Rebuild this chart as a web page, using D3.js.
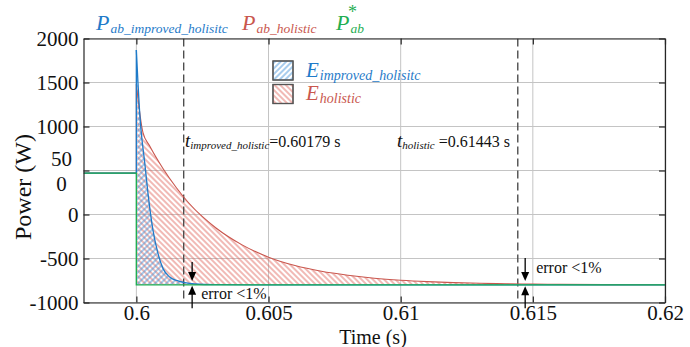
<!DOCTYPE html>
<html><head><meta charset="utf-8">
<script src="https://cdn.jsdelivr.net/npm/d3@7"></script>
<style>
html,body{margin:0;padding:0;background:#fff;}
svg{display:block;}
svg text{font-family:"Liberation Serif","Times New Roman",serif !important;}
</style></head>
<body><svg id="c" width="690" height="347"></svg>
<script>
// ---------- data ----------
const xDomain = [0.598, 0.62];
const yDomain = [-1000, 2000];
const xTicks = [0.6, 0.605, 0.61, 0.615, 0.62];
const xTickLabels = ["0.6", "0.605", "0.61", "0.615", "0.62"];
const yTicks = [-1000, -500, 0, 500, 1000, 1500, 2000];
const yTickLabels = ["-1000", "-500", "0", "50\n0", "1000", "1500", "2000"];

const tImproved = [0.598, 0.6, 0.6, 0.60006, 0.60012, 0.60019, 0.60032, 0.60044, 0.60063, 0.60082, 0.60101, 0.60126, 0.60158, 0.60183, 0.6022, 0.603, 0.605, 0.62];
const pImproved = [470, 470, 1870, 1500, 1180, 920, 580, 240, -180, -445, -615, -710, -755, -775, -790, -797, -800, -800];

const tHolistic = [0.598, 0.6, 0.6, 0.60025, 0.6005, 0.601, 0.6015, 0.602, 0.6025, 0.603, 0.604, 0.605, 0.606, 0.607, 0.608, 0.609, 0.61, 0.611, 0.612, 0.613, 0.614, 0.615, 0.616, 0.618, 0.62];
const pHolistic = [470, 470, 1480, 930, 780, 525, 310, 125, -25, -150, -345, -485, -580, -645, -690, -724, -747, -763, -774, -782, -787, -791, -794, -797, -799];

const tRef = [0.598, 0.6, 0.6, 0.62];
const pRef = [470, 470, -800, -800];

const settleTimes = [0.60179, 0.61443];
const settleLabelSubs = ["improved_holistic", "holistic"];
const settleLabelVals = ["=0.60179 s", " =0.61443 s"];
const errorArrowT = [0.60211, 0.61471];

// ---------- layout ----------
const svg = d3.select("#c");
const L = 83.5, R = 665, T = 38.5, B = 302.5;
const x = d3.scaleLinear().domain(xDomain).range([L, R]);
const y = d3.scaleLinear().domain(yDomain).range([B, T]);
const cBlue = "#1f7bc9", cRed = "#c9574e", cGreen = "#1fae52";
const axisCol = "#262626";

const defs = svg.append("defs");
function hatch(id, color, angle) {
  const p = defs.append("pattern").attr("id", id).attr("patternUnits", "userSpaceOnUse")
    .attr("width", 4).attr("height", 8).attr("patternTransform", `rotate(${angle})`);
  p.append("line").attr("x1", 2).attr("y1", 0).attr("x2", 2).attr("y2", 8)
    .attr("stroke", color).attr("stroke-width", 0.9);
}
hatch("hBlue", "#3b8ed8", 45);
hatch("hRed", "#e0645a", -45);
defs.append("clipPath").attr("id", "plotClip").append("rect")
  .attr("x", L).attr("y", T).attr("width", R - L).attr("height", B - T);

// grid
const g = svg.append("g");
g.selectAll(".gx").data(xTicks).join("line")
  .attr("x1", d => x(d)).attr("x2", d => x(d)).attr("y1", T).attr("y2", B)
  .attr("stroke", "#c4c4c4").attr("stroke-width", 1);
g.selectAll(".gy").data(yTicks).join("line")
  .attr("x1", L).attr("x2", R).attr("y1", d => y(d)).attr("y2", d => y(d))
  .attr("stroke", "#c4c4c4").attr("stroke-width", 1);

const plot = svg.append("g").attr("clip-path", "url(#plotClip)");
const base = pRef[pRef.length - 1];

function pts(ts, ps, from) { return ts.map((t, i) => [t, ps[i]]).slice(from); }
const area = d3.area().x(d => x(d[0])).y0(y(base)).y1(d => y(d[1]));
plot.append("path").datum(pts(tHolistic, pHolistic, 2)).attr("d", area.curve(d3.curveMonotoneX))
  .attr("fill", "url(#hRed)");
plot.append("path").datum(pts(tImproved, pImproved, 2)).attr("d", area.curve(d3.curveMonotoneX))
  .attr("fill", "url(#hBlue)");

// dashed settle lines
plot.selectAll(".ds").data(settleTimes).join("line")
  .attr("x1", d => x(d)).attr("x2", d => x(d)).attr("y1", T).attr("y2", B)
  .attr("stroke", "#4d4d4d").attr("stroke-width", 1.4).attr("stroke-dasharray", "8,4");

const lineLin = d3.line().x(d => x(d[0])).y(d => y(d[1]));
const lineMono = d3.line().x(d => x(d[0])).y(d => y(d[1])).curve(d3.curveMonotoneX);
function drawSeries(ts, ps, col, w) {
  plot.append("path").datum(pts(ts, ps, 0).slice(0, 3)).attr("d", lineLin)
    .attr("fill", "none").attr("stroke", col).attr("stroke-width", w);
  plot.append("path").datum(pts(ts, ps, 2)).attr("d", lineMono)
    .attr("fill", "none").attr("stroke", col).attr("stroke-width", w);
}
drawSeries(tHolistic, pHolistic, cRed, 1.1);
drawSeries(tImproved, pImproved, cBlue, 1.3);
plot.append("path").datum(pts(tRef, pRef, 0)).attr("d", lineLin)
  .attr("fill", "none").attr("stroke", cGreen).attr("stroke-width", 1.4);

// axes (box with inward ticks)
const tickLen = 6;
const xb = svg.append("g").attr("transform", `translate(0,${B})`)
  .call(d3.axisBottom(x).tickValues(xTicks).tickFormat((d, i) => xTickLabels[i]).tickSizeInner(-tickLen).tickSizeOuter(0).tickPadding(3));
const xt = svg.append("g").attr("transform", `translate(0,${T})`)
  .call(d3.axisTop(x).tickValues(xTicks).tickFormat("").tickSizeInner(-tickLen).tickSizeOuter(0));
const yl = svg.append("g").attr("transform", `translate(${L},0)`)
  .call(d3.axisLeft(y).tickValues(yTicks).tickFormat((d, i) => yTickLabels[i]).tickSizeInner(-tickLen).tickSizeOuter(0).tickPadding(5));
const yr = svg.append("g").attr("transform", `translate(${R},0)`)
  .call(d3.axisRight(y).tickValues(yTicks).tickFormat("").tickSizeInner(-tickLen).tickSizeOuter(0));
[xb, xt, yl, yr].forEach(a => {
  a.attr("font-family", null).attr("font-size", null);
  a.selectAll("path.domain").attr("stroke", axisCol).attr("stroke-width", 1.2);
  a.selectAll(".tick line").attr("stroke", axisCol).attr("stroke-width", 1.2);
  a.selectAll("text").attr("font-size", 21).attr("fill", "#111");
});
xb.selectAll("text").attr("dy", "0.71em");
// wrap the split label
yl.selectAll(".tick text").each(function(d) {
  const s = d3.select(this); const txt = s.text();
  if (txt.includes("\n")) {
    const parts = txt.split("\n");
    s.text(null).attr("text-anchor", "middle").attr("x", -22).attr("dy", null);
    parts.forEach((p, k) => s.append("tspan").attr("x", -22).attr("y", k === 0 ? -12.5 : 12.5).attr("dy", "0.34em").text(p));
  }
});

// axis titles
svg.append("text").attr("x", 373).attr("y", 344).attr("text-anchor", "middle")
  .attr("font-size", 20).attr("fill", "#111").text("Time (s)");
svg.append("text").attr("transform", "translate(31,187) rotate(-90)").attr("text-anchor", "middle")
  .attr("font-size", 24).attr("fill", "#111").text("Power (W)");

// top legend
function subText(xp, yp, main, sub, col, fsMain, fsSub, subDy) {
  const t = svg.append("text").attr("x", xp).attr("y", yp).attr("fill", col).attr("font-style", "italic");
  t.append("tspan").attr("font-size", fsMain).text(main);
  t.append("tspan").attr("font-size", fsSub).attr("dy", subDy).attr("dx", 1).text(sub);
  return t;
}
subText(96, 30, "P", "ab_improved_holisitc", cBlue, 22, 13.5, 3);
subText(242, 30, "P", "ab_holistic", cRed, 22, 13.5, 3);
subText(336, 30, "P", "ab", cGreen, 22, 13.5, 3);
svg.append("text").attr("x", 348).attr("y", 18).attr("fill", cGreen).attr("font-size", 18).text("*");

// in-plot legend
const leg = [{y: 61, pat: "hBlue", col: cBlue, sub: "improved_holisitc", by: 77},
             {y: 84.5, pat: "hRed", col: cRed, sub: "holistic", by: 100}];
leg.forEach(l => {
  svg.append("rect").attr("x", 273).attr("y", l.y).attr("width", 20).attr("height", 19)
    .attr("fill", "#fff").attr("stroke", "#555").attr("stroke-width", 1.2);
  svg.append("rect").attr("x", 273).attr("y", l.y).attr("width", 20).attr("height", 19)
    .attr("fill", `url(#${l.pat})`).attr("stroke", "#555").attr("stroke-width", 1.2);
  subText(306, l.by, "E", l.sub, l.col, 21, 14, 3);
});

// settle time labels
const labX = [185, 397];
settleTimes.forEach((t, i) => {
  const tx = svg.append("text").attr("x", labX[i]).attr("y", 147).attr("fill", "#111");
  tx.append("tspan").attr("font-style", "italic").attr("font-size", 19).text("t");
  tx.append("tspan").attr("font-style", "italic").attr("font-size", 11).attr("dy", 2).text(settleLabelSubs[i]);
  tx.append("tspan").attr("font-size", 16).attr("dy", -2).text(settleLabelVals[i]);
});

// error arrows
const arrowSpecs = [
  {t: errorArrowT[0], from: -540, to: -755, up0: -1065, upTip: -810, lx: 9, ly: -955},
  {t: errorArrowT[1], from: -495, to: -755, up0: -1065, upTip: -815, lx: 11, ly: -668}
];
function arrow(xp, y0, y1) {
  const dir = y1 > y0 ? 1 : -1;
  svg.append("line").attr("x1", xp).attr("x2", xp).attr("y1", y0).attr("y2", y1 - dir * 6)
    .attr("stroke", "#000").attr("stroke-width", 1.3);
  svg.append("path").attr("d", `M${xp - 4},${y1 - dir * 9}L${xp + 4},${y1 - dir * 9}L${xp},${y1}Z`).attr("fill", "#000");
}
arrowSpecs.forEach(a => {
  const xp = x(a.t);
  arrow(xp, y(a.from), y(a.to));
  arrow(xp, y(a.up0), y(a.upTip));
  svg.append("text").attr("x", xp + a.lx).attr("y", y(a.ly)).attr("font-size", 16).attr("fill", "#111").text("error <1%");
});
</script></body></html>
